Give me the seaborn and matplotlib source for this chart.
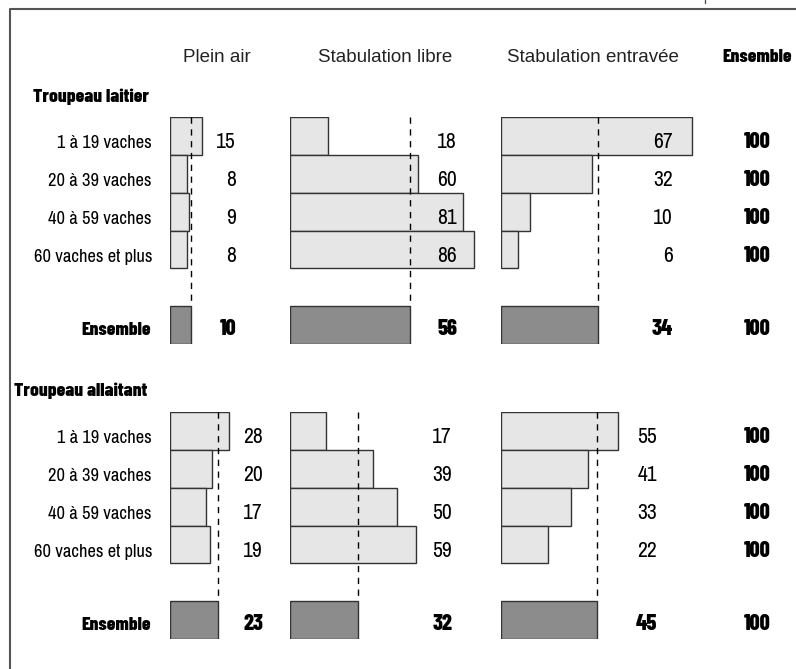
import matplotlib
matplotlib.use("Agg")
import matplotlib.pyplot as plt
import matplotlib.transforms as mtransforms
from matplotlib.lines import Line2D
import pandas as pd
import seaborn as sns

# --- Data ---
categories = ['1 à 19 vaches', '20 à 39 vaches', '40 à 59 vaches', '60 vaches et plus']
groups = ['Plein air', 'Stabulation libre', 'Stabulation entravée']

laitier_plein_air = [15, 8, 9, 8]
laitier_libre = [18, 60, 81, 86]
laitier_entravee = [67, 32, 10, 6]
laitier_ensemble = [10, 56, 34]

allaitant_plein_air = [28, 20, 17, 19]
allaitant_libre = [17, 39, 50, 59]
allaitant_entravee = [55, 41, 33, 22]
allaitant_ensemble = [23, 32, 45]

totals = [100, 100, 100, 100]
total_ensemble = 100

# --- Layout (pixels of a 796x669 figure) ---
W, H = 796, 669
LIGHT = '#e6e6e6'
DARK = '#8c8c8c'
EDGE = '#333333'
NARROW = ['Archivo Narrow', 'DejaVu Sans']
HEAVY = ['Barlow Condensed', 'DejaVu Sans']
REGULAR = ['Liberation Sans', 'DejaVu Sans']
FS_LABEL = 13.3   # row labels
FS_NUM = 15.5     # regular numbers
FS_BWORD = 14     # heavy words
FS_BNUM = 16      # heavy numbers
ROW_BASE = 0.32   # baseline offset below row centre (data units)
ENS_BASE = 0.27

sns.set_theme(style='white')
plt.rcParams['font.family'] = NARROW

fig = plt.figure(figsize=(W / 100, H / 100), dpi=100)


def fx(px):
    return px / W


def fy(py):
    return 1 - py / H


def heavy_text(ax_or_fig, x, y, s, **kw):
    return ax_or_fig.text(x, y, s, family=HEAVY, fontweight=800, color='black', **kw)


# panel left edges and pixel-per-unit scales
panel_left = [170, 290, 501]
panel_width = [110, 200, 200]
order = categories + [' ', 'Ensemble']

sections = [
    {
        'title': 'Troupeau laitier', 'title_x': 33, 'title_y': 102,
        'top': 117, 'bottom': 344,
        'values': [laitier_plein_air, laitier_libre, laitier_entravee],
        'ensemble': laitier_ensemble,
        'scales': [2.1, 2.135, 2.85],
        'label_x': [236, 457, 673],
    },
    {
        'title': 'Troupeau allaitant', 'title_x': 14, 'title_y': 396,
        'top': 412, 'bottom': 639,
        'values': [allaitant_plein_air, allaitant_libre, allaitant_entravee],
        'ensemble': allaitant_ensemble,
        'scales': [2.1, 2.135, 2.13],
        'label_x': [263, 452, 657],
    },
]

for sec in sections:
    axes = []
    for g in range(3):
        ax = fig.add_axes([fx(panel_left[g]), fy(sec['bottom']),
                           fx(panel_width[g]), (sec['bottom'] - sec['top']) / H])
        df = pd.DataFrame({
            'row': categories + ['Ensemble'],
            'value': sec['values'][g] + [sec['ensemble'][g]],
            'kind': ['detail'] * len(categories) + ['ensemble'],
        })
        sns.barplot(data=df, x='value', y='row', hue='kind', order=order,
                    palette={'detail': LIGHT, 'ensemble': DARK}, dodge=False,
                    width=1.0, edgecolor=EDGE, linewidth=1.0, legend=False, ax=ax)
        ax.set_xlim(0, panel_width[g] / sec['scales'][g])
        ax.set_ylim(5.5, -0.5)
        ax.vlines(sec['ensemble'][g], -0.5, 4.5, colors='black',
                  linestyles=(0, (4.5, 4)), linewidth=1.0, zorder=3)
        ax.axis('off')
        axes.append(ax)

        # value labels
        trans = mtransforms.blended_transform_factory(fig.transFigure, ax.transData)
        for i, v in enumerate(sec['values'][g]):
            ax.text(fx(sec['label_x'][g]), i + ROW_BASE, str(v), transform=trans,
                    ha='right', va='baseline', fontsize=FS_NUM, color='black')
        heavy_text(ax, fx(sec['label_x'][g]), 5 + ENS_BASE, str(sec['ensemble'][g]),
                   transform=trans, ha='right', va='baseline', fontsize=FS_BNUM)

    # row labels and Ensemble column
    trans = mtransforms.blended_transform_factory(fig.transFigure, axes[0].transData)
    for i, (cat, t) in enumerate(zip(categories, totals)):
        axes[0].text(fx(152), i + ROW_BASE, cat, transform=trans, ha='right',
                     va='baseline', fontsize=FS_LABEL, color='black')
        heavy_text(axes[0], fx(757), i + ROW_BASE, str(t), transform=trans,
                   ha='center', va='baseline', fontsize=FS_BNUM)
    heavy_text(axes[0], fx(151), 5 + ENS_BASE, 'Ensemble', transform=trans,
               ha='right', va='baseline', fontsize=FS_BWORD)
    heavy_text(axes[0], fx(757), 5 + ENS_BASE, str(total_ensemble), transform=trans,
               ha='center', va='baseline', fontsize=FS_BNUM)

    heavy_text(fig, fx(sec['title_x']), fy(sec['title_y']), sec['title'],
               ha='left', va='baseline', fontsize=FS_BWORD)

# column headers
for name, cx in zip(groups, [217, 385, 593]):
    fig.text(fx(cx), fy(62), name, ha='center', va='baseline', fontsize=13.5,
             family=REGULAR, color='#222222')
heavy_text(fig, fx(757), fy(62), 'Ensemble', ha='center', va='baseline',
           fontsize=FS_BWORD)

# frame
fig.add_artist(Line2D([fx(10), fx(10), fx(796)], [fy(669), fy(9), fy(9)],
                      color='#555555', linewidth=1.5))
fig.add_artist(Line2D([fx(705), fx(705)], [fy(0), fy(3)], color='#555555', linewidth=1.0))

plt.savefig('out.png', dpi=100)
